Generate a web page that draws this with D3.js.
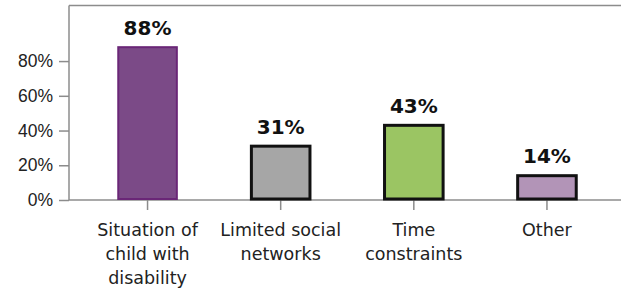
<!DOCTYPE html>
<html>
<head>
<meta charset="utf-8">
<script src="https://cdn.jsdelivr.net/npm/d3@7"></script>
<style>
  body { margin: 0; background: #fff; }
  svg { display: block; font-family: "DejaVu Sans", sans-serif; }
  .axis path, .axis line { stroke: #8c8c8c; stroke-width: 1.5; }
  .axis text { fill: #222; font-size: 17.5px; }
  .value { font-weight: bold; font-size: 20px; fill: #111; }
</style>
</head>
<body>
<div id="chart"></div>
<script>
  const categories = ["Situation of child with disability", "Limited social networks", "Time constraints", "Other"];
  const labelLines = [["Situation of", "child with", "disability"], ["Limited social", "networks"], ["Time", "constraints"], ["Other"]];
  const values = [0.88, 0.31, 0.43, 0.14];
  const fills = ["#7b4a87", "#a6a6a6", "#9bc563", "#b294b7"];
  const strokes = ["#6a2677", "#111", "#111", "#111"];
  const strokeWidths = [2, 3, 3, 3];
  const yTicks = [0, 0.2, 0.4, 0.6, 0.8];

  const W = 621, H = 293;
  const plot = { left: 69, top: 5.5, bottom: 200, right: 625.5 };

  const svg = d3.select("#chart").append("svg")
      .attr("width", W)
      .attr("height", H);

  const x = d3.scaleBand()
      .domain(categories)
      .range([plot.left, plot.right])
      .paddingInner(0.56)
      .paddingOuter(0.37);

  const y = d3.scaleLinear()
      .domain([0, 1.12])
      .range([plot.bottom, plot.top]);

  // frame (top border)
  svg.append("line")
      .attr("x1", plot.left).attr("x2", W)
      .attr("y1", plot.top).attr("y2", plot.top)
      .attr("stroke", "#8c8c8c")
      .attr("stroke-width", 1.5);

  const yAxis = svg.append("g")
      .attr("class", "axis")
      .attr("transform", `translate(${plot.left},0)`)
      .call(d3.axisLeft(y).tickValues(yTicks).tickSize(10).tickPadding(6)
          .tickFormat(d3.format(".0%")));
  yAxis.select(".domain").attr("d", `M0,${plot.top}V${plot.bottom}`);

  const xAxis = svg.append("g")
      .attr("class", "axis")
      .attr("transform", `translate(0,${plot.bottom})`)
      .call(d3.axisBottom(x).tickSize(10).tickFormat(""));
  xAxis.select(".domain").attr("d", `M${plot.left},0H${W}`);

  svg.selectAll("rect.bar")
      .data(values)
      .join("rect")
      .attr("class", "bar")
      .attr("x", (d, i) => x(categories[i]))
      .attr("width", x.bandwidth())
      .attr("y", d => y(d))
      .attr("height", d => y(0) - y(d) - 1)
      .attr("fill", (d, i) => fills[i])
      .attr("stroke", (d, i) => strokes[i])
      .attr("stroke-width", (d, i) => strokeWidths[i]);

  // multi-line category labels
  svg.append("g")
      .selectAll("text")
      .data(categories)
      .join("text")
      .attr("text-anchor", "middle")
      .attr("font-size", 17.5)
      .attr("fill", "#222")
      .attr("x", d => x(d) + x.bandwidth() / 2)
      .attr("y", 236)
      .each(function(d, i) {
        d3.select(this).selectAll("tspan")
          .data(labelLines[i])
          .join("tspan")
          .attr("x", x(d) + x.bandwidth() / 2)
          .attr("dy", (t, j) => j === 0 ? 0 : 24)
          .text(t => t);
      });

  svg.selectAll("text.value")
      .data(values)
      .join("text")
      .attr("class", "value")
      .attr("text-anchor", "middle")
      .attr("x", (d, i) => x(categories[i]) + x.bandwidth() / 2)
      .attr("y", d => y(d) - 12.5)
      .text(d => d3.format(".0%")(d));
</script>
</body>
</html>
